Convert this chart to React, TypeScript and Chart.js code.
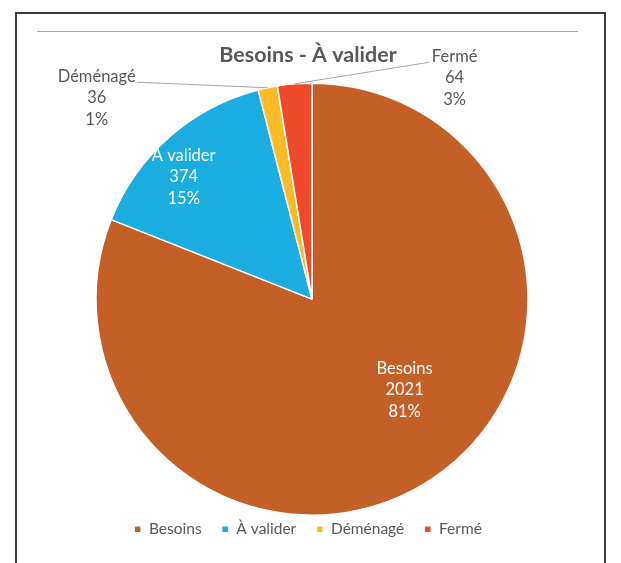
import React, { useEffect, useRef } from "react";
import { Chart, registerables } from "chart.js";

Chart.register(...registerables);

const categories = ["Besoins", "À valider", "Déménagé", "Fermé"];
const values = [2021, 374, 36, 64];
const colors = ["#C46027", "#1BACE0", "#FBBB26", "#EE4A2B"];
const titleText = "Besoins - À valider";

const FONT = "Lato, 'Open Sans', sans-serif";

// label placement (text only): inside labels use angle shift (deg) + radius fraction,
// outside labels use an offset from the slice's outer edge midpoint
const labelPlacement: any[] = [
  { mode: "inside", shift: -11.4, frac: 0.6 },
  { mode: "inside", shift: -5, frac: 0.82 },
  { mode: "outside", dx: -171, dy: 10, side: "left" },
  { mode: "outside", dx: 160, dy: -6, side: "right" },
];

const sliceLabels = {
  id: "sliceLabels",
  afterDatasetsDraw(chart: any) {
    const ctx = chart.ctx;
    const meta = chart.getDatasetMeta(0);
    const data = chart.data.datasets[0].data as number[];
    const total = data.reduce((a, b) => a + b, 0);
    const lh = 21.5;
    ctx.save();
    ctx.font = `16.5px ${FONT}`;
    ctx.textAlign = "center";
    ctx.textBaseline = "middle";
    meta.data.forEach((arc: any, i: number) => {
      const p = arc.getProps(["x", "y", "startAngle", "endAngle", "outerRadius"], true);
      const mid = (p.startAngle + p.endAngle) / 2;
      const lines = [
        String(chart.data.labels[i]),
        String(data[i]),
        Math.round((data[i] / total) * 100) + "%",
      ];
      const cfg = labelPlacement[i];
      let cx: number, cy: number;
      if (cfg.mode === "inside") {
        const a = mid + (cfg.shift * Math.PI) / 180;
        cx = p.x + Math.cos(a) * p.outerRadius * cfg.frac;
        cy = p.y + Math.sin(a) * p.outerRadius * cfg.frac;
        ctx.fillStyle = "#FFFFFF";
      } else {
        const ex = p.x + Math.cos(mid) * p.outerRadius;
        const ey = p.y + Math.sin(mid) * p.outerRadius;
        cx = ex + cfg.dx;
        cy = ey + cfg.dy;
        const w = ctx.measureText(lines[0]).width;
        const lx = cfg.side === "left" ? cx + w / 2 + 1 : cx - w / 2 - 3;
        const ly = cy - lh + 6;
        ctx.strokeStyle = "#A6A6A6";
        ctx.lineWidth = 1;
        ctx.beginPath();
        ctx.moveTo(ex, ey);
        ctx.lineTo(lx, ly);
        ctx.stroke();
        ctx.fillStyle = "#595959";
      }
      lines.forEach((t, k) => {
        ctx.fillText(t, cx, cy + (k - 1) * lh);
      });
    });
    ctx.restore();
  },
};

export default function App() {
  const ref = useRef<HTMLCanvasElement | null>(null);
  useEffect(() => {
    if (!ref.current) return;
    const chart = new Chart(ref.current, {
      type: "pie",
      data: {
        labels: categories,
        datasets: [
          {
            data: values,
            backgroundColor: colors,
            borderColor: "#FFFFFF",
            borderWidth: 1.5,
            radius: 216,
          } as any,
        ],
      },
      options: {
        animation: false,
        responsive: false,
        maintainAspectRatio: false,
        events: [],
        layout: { padding: { top: 0, bottom: 16, left: 16, right: 21 } },
        plugins: {
          title: {
            display: true,
            text: titleText,
            color: "#595959",
            font: { family: FONT, size: 21.5, weight: "bold" },
            padding: { top: 42, bottom: 29 },
          },
          subtitle: {
            display: true,
            position: "left",
            text: "",
            font: { family: FONT, size: 5 },
            padding: { top: 1, bottom: 1 },
          },
          legend: {
            display: true,
            position: "bottom",
            labels: {
              boxWidth: 7,
              boxHeight: 7,
              padding: 20,
              color: "#595959",
              font: { family: FONT, size: 15.5 },
            },
          },
          tooltip: { enabled: false },
        },
      } as any,
      plugins: [sliceLabels],
    });
    return () => chart.destroy();
  }, []);

  return (
    <div style={{ position: "fixed", left: 0, top: 0, width: 621, height: 563, background: "#fff", overflow: "hidden" }}>
      <div
        style={{
          position: "absolute",
          left: 15,
          top: 12,
          width: 591,
          height: 600,
          border: "2px solid #3C3C3C",
          boxSizing: "border-box",
        }}
      />
      <div style={{ position: "absolute", left: 37, top: 31, width: 541, height: 1, background: "#A6A6A6" }} />
      <canvas ref={ref} width={621} height={563} style={{ position: "absolute", left: 0, top: 0, width: 621, height: 563 }} />
    </div>
  );
}
